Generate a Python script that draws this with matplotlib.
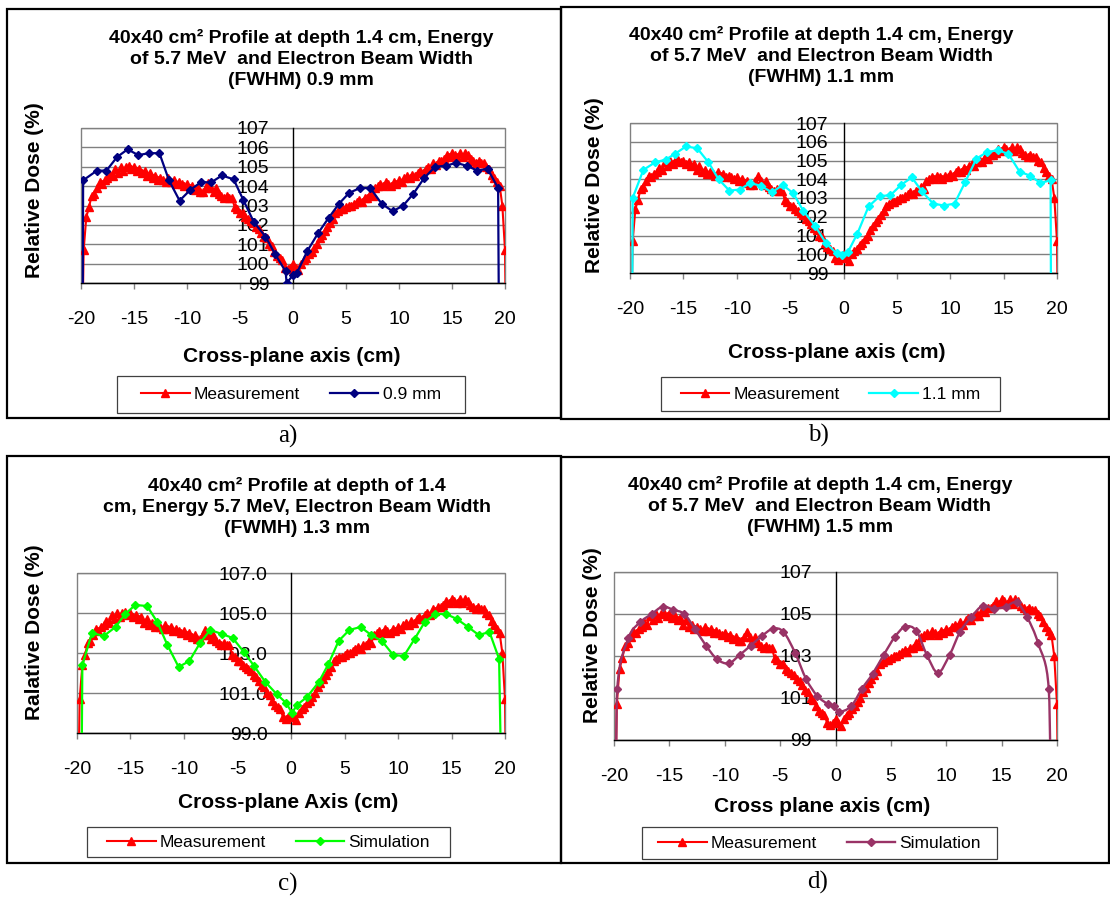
import numpy as np
import matplotlib
matplotlib.use('Agg')
from matplotlib import pyplot as plt
from matplotlib.patches import Rectangle, PathPatch
from matplotlib.path import Path
from matplotlib.lines import Line2D

plt.rcParams['font.family'] = ['Liberation Sans', 'DejaVu Sans']
plt.rcParams['axes.unicode_minus'] = False

# measured profile (same in all four charts), 0.25 cm steps from -20 to 20.25
meas_x = np.arange(-20.0, 20.26, 0.25)
meas_y = [
    92.0, 100.7, 102.4, 102.9, 103.5, 103.6, 103.9, 104.2,
    104.1, 104.3, 104.4, 104.6, 104.5, 104.9, 104.7, 105.0,
    104.8, 105.0, 105.05, 104.9, 105.0, 104.8, 104.9, 104.7,
    104.8, 104.5, 104.7, 104.4, 104.5, 104.3, 104.4, 104.3,
    104.2, 104.4, 104.2, 104.3, 104.1, 104.2, 104.1, 104.0,
    104.1, 103.9, 104.0, 103.8, 103.9, 103.7, 103.7, 103.9,
    104.15, 103.9, 103.7, 103.9, 103.6, 103.5, 103.4, 103.5,
    103.4, 103.4, 102.9, 102.8, 102.6, 102.6, 102.4, 102.3,
    102.2, 102.1, 101.9, 101.8, 101.6, 101.4, 101.3, 101.0,
    100.9, 100.6, 100.4, 100.3, 100.2, 99.8, 99.7, 99.8,
    100.0, 99.8, 99.65, 100.0, 100.2, 100.3, 100.5, 100.6,
    100.8, 101.0, 101.3, 101.5, 101.7, 101.9, 102.1, 102.3,
    102.6, 102.7, 102.8, 102.8, 102.9, 103.0, 103.0, 103.1,
    103.2, 103.3, 103.2, 103.4, 103.4, 103.6, 103.5, 103.9,
    104.0, 104.1, 104.0, 104.2, 104.1, 104.0, 104.2, 104.1,
    104.3, 104.2, 104.4, 104.5, 104.4, 104.6, 104.5, 104.7,
    104.8, 104.7, 104.9, 105.0, 104.9, 105.2, 105.1, 105.3,
    105.3, 105.4, 105.6, 105.5, 105.7, 105.6, 105.5, 105.7,
    105.5, 105.7, 105.6, 105.4, 105.3, 105.2, 105.3, 105.2,
    105.2, 105.0, 104.9, 104.6, 104.4, 104.2, 104.0, 103.0,
    100.7, 90.0,
]

# simulations
sim_a_x = [-19.85, -19.8, -18.5, -17.6, -16.6, -15.6, -14.6, -13.6, -12.6, -11.7,
           -10.7, -9.7, -8.7, -7.7, -6.7, -5.6, -4.7, -3.7, -2.6, -1.7,
           -0.7, -0.6, 0.0, 0.35, 1.35, 2.4, 3.35, 4.35, 5.3, 6.3,
           7.3, 8.35, 9.4, 10.4, 11.35, 12.35, 13.4, 14.4, 15.4, 16.4,
           17.4, 18.35, 19.35, 19.45]
sim_a_y = [95, 104.3, 104.8, 104.8, 105.5, 105.9, 105.6, 105.7, 105.7, 104.3,
           103.25, 103.8, 104.2, 104.2, 104.55, 104.35, 103.3, 102.15, 101.4, 100.5,
           99.6, 99.0, 99.4, 99.5, 100.65, 101.6, 102.35, 103.1, 103.65, 103.9,
           103.9, 103.1, 102.7, 103.0, 103.6, 104.4, 105.0, 105.05, 105.2, 105.05,
           104.8, 104.9, 103.9, 95]

sim_b_x = [-19.8, -19.75, -18.75, -17.65, -16.65, -15.8, -14.75, -13.7, -12.65, -11.7,
           -10.7, -9.7, -8.75, -7.75, -6.7, -5.7, -4.7, -3.75, -2.65, -1.65,
           -0.65, -0.15, 0.4, 1.3, 2.35, 3.4, 4.4, 5.4, 6.4, 7.35,
           8.4, 9.4, 10.4, 11.4, 12.45, 13.45, 14.45, 15.45, 16.5, 17.45,
           18.45, 19.4, 19.45]
sim_b_y = [95, 103.0, 104.5, 104.9, 105.05, 105.35, 105.75, 105.65, 104.9, 104.0,
           103.4, 103.45, 103.8, 103.65, 103.3, 103.7, 103.25, 102.3, 101.5, 100.6,
           100.05, 99.95, 100.1, 101.1, 102.55, 103.1, 103.15, 103.7, 104.1, 103.35,
           102.7, 102.6, 102.7, 103.85, 105.1, 105.45, 105.55, 105.35, 104.4, 104.2,
           103.8, 103.95, 95]

sim_c_x = [-19.6, -19.5, -18.6, -17.5, -16.4, -15.5, -14.55, -13.45, -12.5, -11.55,
           -10.5, -9.5, -8.5, -7.55, -6.45, -5.45, -4.4, -3.45, -2.4, -1.35,
           -0.45, 0.1, 0.55, 1.5, 2.6, 3.5, 4.45, 5.45, 6.5, 7.5,
           8.5, 9.55, 10.55, 11.55, 12.5, 13.5, 14.5, 15.5, 16.55, 17.55,
           18.55, 19.45, 19.7]
sim_c_y = [95, 102.4, 104.0, 103.85, 104.3, 104.95, 105.4, 105.35, 104.55, 103.4,
           102.3, 102.6, 103.5, 104.15, 103.95, 103.75, 103.05, 102.35, 101.55, 100.95,
           100.5, 100.0, 100.4, 100.8, 101.55, 102.45, 103.6, 104.15, 104.3, 103.9,
           103.6, 102.9, 102.85, 103.7, 104.55, 104.95, 104.95, 104.7, 104.3, 103.9,
           104.05, 102.7, 95]

sim_d_x = [-19.75, -19.7, -18.7, -17.65, -16.6, -15.6, -14.65, -13.65, -12.7, -11.7,
           -10.7, -9.65, -8.65, -7.65, -6.65, -5.65, -4.7, -3.65, -2.65, -1.65,
           -0.65, -0.1, 0.35, 1.4, 2.4, 3.35, 4.35, 5.35, 6.3, 7.3,
           8.25, 9.25, 10.3, 11.25, 12.25, 13.3, 14.3, 15.35, 16.35, 17.3,
           18.3, 19.25, 19.4]
sim_d_y = [95, 101.45, 103.85, 104.6, 105.0, 105.35, 105.2, 105.0, 104.3, 103.5,
           102.85, 102.65, 103.05, 103.5, 103.95, 104.3, 104.15, 103.15, 101.9, 101.1,
           100.7, 100.6, 100.35, 100.6, 101.45, 102.15, 103.05, 103.9, 104.4, 104.2,
           103.05, 102.2, 103.05, 104.15, 104.85, 105.4, 105.25, 105.35, 105.55, 104.85,
           103.6, 101.45, 95]

x_ticks = [-20, -15, -10, -5, 0, 5, 10, 15, 20]
y_ticks_1 = [99, 100, 101, 102, 103, 104, 105, 106, 107]
y_labels_1 = ['99', '100', '101', '102', '103', '104', '105', '106', '107']
y_ticks_2 = [99, 101, 103, 105, 107]
y_labels_c = ['99.0', '101.0', '103.0', '105.0', '107.0']
y_labels_d = ['99', '101', '103', '105', '107']

title_ab = "40x40 cm² Profile at depth 1.4 cm, Energy\nof 5.7 MeV  and Electron Beam Width\n(FWHM) {} mm"
title_c = "40x40 cm² Profile at depth of 1.4\ncm, Energy 5.7 MeV, Electron Beam Width\n(FWMH) 1.3 mm"

W, H = 1110, 899


def fx(x):
    return x / W


def fy(y):
    return 1 - y / H


def smooth_path(xs, ys):
    # excel style smoothed line: bezier segments through the points
    pts = np.column_stack([xs, ys]).astype(float)
    n = len(pts)
    verts = [pts[0]]
    codes = [Path.MOVETO]
    for i in range(n - 1):
        p0 = pts[max(i - 1, 0)]
        p1 = pts[i]
        p2 = pts[i + 1]
        p3 = pts[min(i + 2, n - 1)]
        verts += [p1 + (p2 - p0) / 6, p2 - (p3 - p1) / 6, p2]
        codes += [Path.CURVE4] * 3
    return Path(verts, codes)


fig = plt.figure(figsize=(11.1, 8.99), dpi=100)

# everything in pixel coordinates of the original picture
panels = [
    dict(box=(7, 9, 561, 418), plot=(81, 128, 505, 283),
         sx=sim_a_x, sy=sim_a_y, color='#000080', name='0.9 mm', smooth=False,
         title=title_ab.format('0.9'), title_at=(301, 59),
         ylabel='Relative Dose (%)', ylabel_at=(35, 190),
         xlabel='Cross-plane axis (cm)', xlabel_at=(292, 357),
         legend=(117, 376, 465, 413), yt=y_ticks_1, yl=y_labels_1, ypad=17,
         cap='a)', cap_at=(288, 436)),
    dict(box=(561, 7, 1109, 419), plot=(630, 123, 1057, 273),
         sx=sim_b_x, sy=sim_b_y, color='#00FFFF', name='1.1 mm', smooth=False,
         title=title_ab.format('1.1'), title_at=(821, 56),
         ylabel='Relative Dose (%)', ylabel_at=(595, 185),
         xlabel='Cross-plane axis (cm)', xlabel_at=(837, 353),
         legend=(661, 377, 1000, 411), yt=y_ticks_1, yl=y_labels_1, ypad=11,
         cap='b)', cap_at=(818, 435)),
    dict(box=(7, 456, 561, 863), plot=(77, 573, 505, 733),
         sx=sim_c_x, sy=sim_c_y, color='#00FF00', name='Simulation', smooth=False,
         title=title_c, title_at=(297, 507),
         ylabel='Ralative Dose (%)', ylabel_at=(35, 632),
         xlabel='Cross-plane Axis (cm)', xlabel_at=(288, 803),
         legend=(87, 827, 450, 857), yt=y_ticks_2, yl=y_labels_c, ypad=17,
         cap='c)', cap_at=(288, 884)),
    dict(box=(561, 457, 1109, 863), plot=(614, 572, 1057, 740),
         sx=sim_d_x, sy=sim_d_y, color='#993366', name='Simulation', smooth=True,
         title=title_ab.format('1.5'), title_at=(820, 506),
         ylabel='Relative Dose (%)', ylabel_at=(593, 635),
         xlabel='Cross plane axis (cm)', xlabel_at=(822, 807),
         legend=(642, 827, 997, 859), yt=y_ticks_2, yl=y_labels_d, ypad=17,
         cap='d)', cap_at=(818, 882)),
]

for p in panels:
    x0, y0, x1, y1 = p['box']
    fig.add_artist(Rectangle((fx(x0), fy(y1)), (x1 - x0) / W, (y1 - y0) / H,
                             transform=fig.transFigure, fill=False, ec='black', lw=1.6))

    l, t, r, b = p['plot']
    ax = fig.add_axes([fx(l), fy(b), (r - l) / W, (b - t) / H])
    m_line, = ax.plot(meas_x, meas_y, color='#FF0000', lw=1.5, marker='^', ms=5.3,
                      label='Measurement', zorder=3)
    if p['smooth']:
        ax.add_patch(PathPatch(smooth_path(p['sx'], p['sy']), fill=False,
                               ec=p['color'], lw=1.7, zorder=4))
        ax.plot(p['sx'], p['sy'], ls='none', color=p['color'], marker='D', ms=3.8, zorder=4)
        s_line = Line2D([], [], color=p['color'], lw=1.7, marker='D', ms=3.8)
    else:
        s_line, = ax.plot(p['sx'], p['sy'], color=p['color'], lw=1.6, marker='D', ms=3.8,
                          label=p['name'], zorder=4)
    ax.set_xlim(-20, 20)
    ax.set_ylim(99, 107)
    ax.set_xticks(x_ticks)
    ax.set_yticks(p['yt'])
    ax.set_yticklabels(p['yl'])
    ax.yaxis.grid(True, color='#808080', lw=1)
    ax.set_axisbelow(True)

    ax.spines['left'].set_position(('data', 0))
    ax.spines['left'].set_color('black')
    ax.spines['left'].set_linewidth(1)
    ax.spines['bottom'].set_color('black')
    ax.spines['bottom'].set_linewidth(1)
    ax.spines['top'].set_visible(False)
    ax.spines['right'].set_visible(False)
    for s in ax.spines.values():
        s.set_zorder(1)
    ax.patch.set_edgecolor('#808080')
    ax.patch.set_linewidth(1)

    ax.tick_params(axis='y', length=0, pad=p['ypad'], labelsize=14)
    ax.tick_params(axis='x', length=4.5, width=1, direction='out', color='#808080',
                   pad=16, labelsize=14)

    fig.text(fx(p['title_at'][0]), fy(p['title_at'][1]), p['title'], ha='center',
             va='center', fontsize=14, fontweight='bold', linespacing=1.3)
    fig.text(fx(p['ylabel_at'][0]), fy(p['ylabel_at'][1]), p['ylabel'], rotation=90,
             ha='center', va='center', fontsize=15, fontweight='bold')
    fig.text(fx(p['xlabel_at'][0]), fy(p['xlabel_at'][1]), p['xlabel'], ha='center',
             va='center', fontsize=15, fontweight='bold')

    # legend box drawn on its own, entries centred in it
    lx0, ly0, lx1, ly1 = p['legend']
    fig.add_artist(Rectangle((fx(lx0), fy(ly1)), (lx1 - lx0) / W, (ly1 - ly0) / H,
                             transform=fig.transFigure, fill=False, ec='#404040', lw=0.9))
    fig.legend([m_line, s_line], ['Measurement', p['name']], loc='center',
               bbox_to_anchor=(fx((lx0 + lx1) / 2), fy((ly0 + ly1) / 2)), ncol=2,
               frameon=False, fontsize=12.5, numpoints=1, handlelength=2.8,
               handletextpad=0.25, columnspacing=1.7, borderpad=0)

    fig.text(fx(p['cap_at'][0]), fy(p['cap_at'][1]), p['cap'], ha='center', va='center',
             fontsize=18, family='Liberation Serif')

fig.savefig('out.png', dpi=100)
